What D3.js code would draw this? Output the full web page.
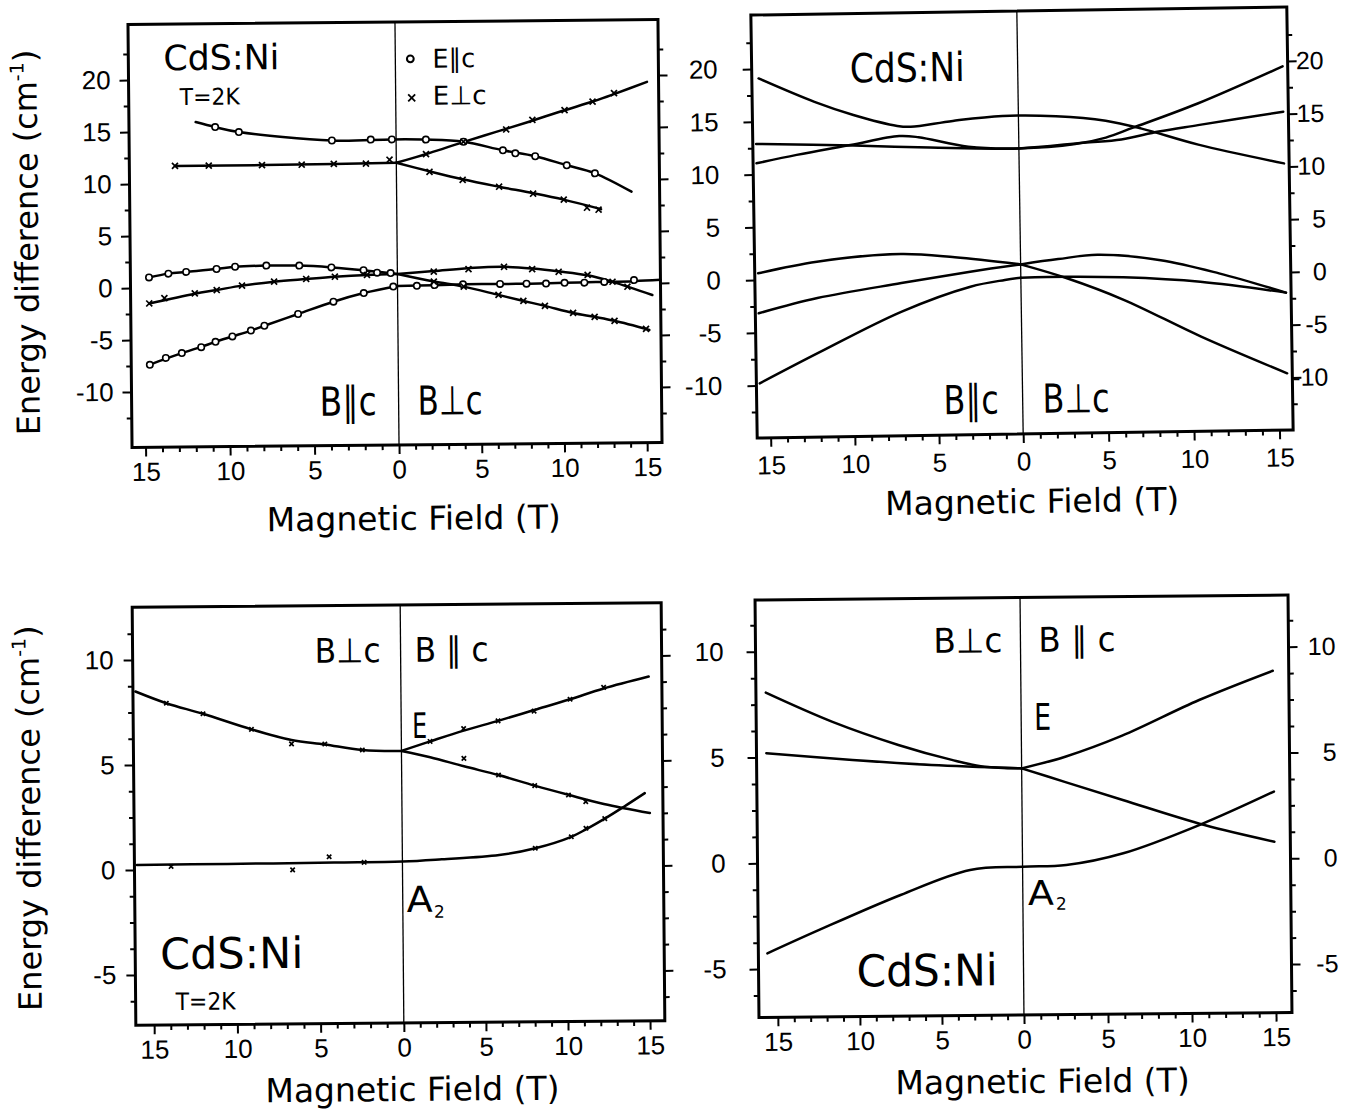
<!DOCTYPE html>
<html>
<head>
<meta charset="utf-8">
<script src="https://cdn.jsdelivr.net/npm/d3@7"></script>
<style>
body { margin: 0; background: #fff; }
text { font-family: "DejaVu Sans", sans-serif; fill: #000; }
.tick text { font-family: "Liberation Sans", Arial, sans-serif; }
</style>
</head>
<body>
<script>
// ---- top left: measured points and fitted lines, T = 2 K ([B, dE]) ----
// negative B = B||c half (drawn on the left), positive B = B⊥c half
var tlUpperPar = [[-11.85,15.9],[-10.7,15.4],[-9.3,14.9],[-3.8,14.0],[-0.25,14.05],[1.8,14.0],[4.07,13.76],[6.45,12.9],[8.4,12.3],[10.3,11.4],[12.0,10.6],[14.2,8.8]];
var tlUpperPerpLeft = [[-13.1,11.7],[-7.9,11.7],[-3.7,11.75],[0,11.8]];
var tlUpperPerpRise = [[0,11.8],[2,12.7],[4,13.7],[6,14.65],[8,15.6],[10,16.6],[12,17.55],[13.2,18.2],[15.2,19.35]];
var tlUpperPerpFall = [[0,11.8],[2,10.95],[4,10.15],[6.2,9.4],[8.25,8.75],[10.1,8.1],[12.35,7.15]];
var tlLowParLeft = [[-14.7,1.0],[-13.55,1.35],[-12.5,1.5],[-10.7,1.75],[-9.6,1.95],[-7.75,2.03],[-5.8,2.0],[-3.9,1.8],[-2.0,1.5],[0,1.1]];
var tlLowPerpLeft = [[-14.7,-1.5],[-12,-0.6],[-10.7,-0.27],[-9.2,0.13],[-7.3,0.48],[-5.4,0.71],[-3.7,0.9],[-1.8,1.04],[0,1.1]];
var tlLowPerpHump = [[0,1.1],[2.2,1.35],[4.3,1.6],[6.4,1.7],[8.2,1.5],[9.8,1.2],[11.5,0.8],[13.0,0.15],[15.4,-1.15]];
var tlLowPerpFall = [[0,1.1],[2.2,0.34],[4.0,-0.17],[6.1,-1.0],[7.6,-1.6],[8.9,-2.1],[10.6,-2.8],[11.9,-3.2],[13.1,-3.6],[15.2,-4.5]];
var tlLowestParLeft = [[-14.7,-7.4],[-13.7,-6.8],[-12.8,-6.3],[-11.7,-5.75],[-10.8,-5.25],[-9.8,-4.75],[-8.7,-4.2],[-7.9,-3.75],[-5.9,-2.65],[-3.8,-1.5],[-2.0,-0.7],[0,-0.05]];
var tlLowestParRight = [[0,-0.05],[2.2,0.0],[4.1,0.05],[6.3,0.05],[8.0,0.05],[10.1,0.1],[12.0,0.15],[14.3,0.2],[15.9,0.3]];

var tlPointsPar = [[-10.7,15.4],[-9.3,14.9],[-3.8,14.0],[-1.5,14.05],[-0.25,14.05],[1.8,14.0],[4.07,13.76],[6.45,12.9],[7.2,12.6],[8.4,12.3],[10.3,11.4],[12.0,10.6],
  [-14.7,1.0],[-13.55,1.35],[-12.5,1.5],[-10.7,1.75],[-9.6,1.95],[-7.75,2.03],[-5.8,2.0],[-3.9,1.8],[-2.0,1.5],[-1.2,1.25],[-0.4,1.2],
  [-14.7,-7.4],[-13.75,-6.75],[-12.8,-6.3],[-11.65,-5.75],[-10.8,-5.25],[-9.8,-4.75],[-8.7,-4.2],[-7.9,-3.75],[-5.9,-2.65],[-3.8,-1.5],[-2.0,-0.7],[-0.25,-0.1],
  [1.17,-0.05],[2.24,0.0],[3.96,0.05],[6.2,0.05],[7.8,0.05],[8.98,0.05],[10.1,0.1],[11.3,0.1],[12.5,0.15],[14.3,0.3]];
var tlPointsPerp = [[-13.1,11.7],[-11.1,11.7],[-7.95,11.7],[-5.6,11.7],[-3.7,11.75],[-1.8,11.75],[-0.4,12.1],
  [1.8,12.6],[4.07,13.76],[6.66,14.9],[8.25,15.8],[10.2,16.7],[11.9,17.5],[13.2,18.3],
  [2.0,10.9],[4.0,10.1],[6.2,9.4],[8.25,8.7],[10.1,8.1],[11.5,7.3],[12.2,7.1],
  [-14.7,-1.5],[-13.8,-1.0],[-12,-0.57],[-10.7,-0.27],[-9.2,0.13],[-7.3,0.48],[-5.4,0.71],[-3.7,0.9],[-1.8,1.04],
  [2.2,1.3],[4.3,1.5],[6.45,1.7],[8.15,1.45],[9.75,1.17],[11.5,0.84],[13.0,0.16],[13.9,-0.33],
  [2.2,0.34],[4.0,-0.17],[6.1,-1.0],[7.6,-1.6],[8.9,-2.1],[10.6,-2.8],[11.9,-3.2],[13.1,-3.6],[15.0,-4.4]];

// ---- top right: calculated levels ----
var trLevel1 = [[-15.4,19.1],[-12.1,16.8],[-9.8,15.5],[-7.2,14.4],[-6.4,14.3],[-3.9,14.8],[-0.95,15.2],[2.2,15.1],[5.1,14.6],[7.2,13.8],[10.5,12.2],[15.5,10.3]];
var trLevel2 = [[-15.6,11.06],[-13.2,11.8],[-10.0,12.66],[-7.1,13.44],[-5.95,13.3],[-3.0,12.33],[0,12.1],[3.3,12.43],[5.1,13.0],[6.7,13.9],[10.5,16.1],[15.5,19.5]];
var trLevel3 = [[-15.6,12.9],[-9.8,12.6],[-5.3,12.3],[0,12.1],[3.8,12.55],[6.0,12.8],[8.2,13.5],[10.5,14.05],[15.5,15.2]];
var trLevel4Left = [[-15.6,0.63],[-12.1,1.65],[-7.1,2.26],[-3.9,1.87],[0,1.1]];
var trLevel4Right = [[0,1.1],[2.2,1.55],[4.5,1.9],[8.2,1.3],[11.6,-0.03],[15.5,-1.95]];
var trLevel5Left = [[-15.6,-3.16],[-12.1,-1.8],[-7.1,-0.5],[-3.0,0.48],[0,1.1]];
var trLevel5Right = [[0,1.1],[2.7,-0.28],[6.0,-2.4],[10.5,-6.0],[15.5,-9.6]];
var trLevel6Left = [[-15.6,-9.8],[-12.1,-7.0],[-7.1,-3.2],[-3.0,-0.94],[-0.95,-0.35],[0,-0.16]];
var trLevel6Right = [[0,-0.16],[2.7,-0.13],[6.0,-0.27],[10.5,-0.8],[15.5,-1.95]];

// ---- bottom left: measured E and A2 levels (B⊥c left, B||c right) ----
var blELeft = [[-15.95,8.5],[-14.1,7.93],[-11.9,7.41],[-9.0,6.65],[-6.6,6.13],[-4.6,5.9],[-2.35,5.62],[0,5.56]];
var blERise = [[0,5.56],[1.75,6.0],[3.8,6.5],[5.9,6.95],[8.1,7.45],[10.3,7.95],[12.35,8.45],[15.1,9.0]];
var blEFall = [[0,5.56],[1.75,5.25],[3.8,4.8],[5.9,4.37],[8.1,3.85],[10.15,3.4],[12.3,2.95],[15.1,2.5]];
var blA2 = [[-15.95,0.24],[-10.5,0.25],[-4.1,0.27],[0,0.29],[2.4,0.38],[5.9,0.56],[8.1,0.87],[10.3,1.4],[11.2,1.75],[12.35,2.25],[13.5,2.8],[14.8,3.45]];
var blPoints = [[-14.1,7.93],[-11.9,7.41],[-9.0,6.65],[-6.6,5.94],[-4.6,5.92],[-2.35,5.62],
  [1.75,6.0],[3.8,6.6],[5.9,6.95],[8.1,7.4],[10.3,7.95],[12.35,8.5],
  [3.8,5.18],[5.9,4.37],[8.1,3.85],[10.15,3.39],[11.2,3.07],
  [-13.9,0.15],[-6.6,-0.06],[-4.4,0.55],[-2.3,0.27],[8.1,0.87],[10.3,1.4],[11.2,1.8],[12.35,2.25]];

// ---- bottom right: calculated E and A2 levels ----
var brELeftUpper = [[-15.55,8.06],[-11.5,6.65],[-7.5,5.53],[-4.25,4.8],[-2.25,4.46],[0,4.37]];
var brELeftLower = [[-15.55,5.2],[-10.3,4.84],[-5.5,4.57],[0,4.37]];
var brERise = [[0,4.37],[2.6,4.9],[6.0,5.87],[10.6,7.52],[15.0,8.87]];
var brEFall = [[0,4.37],[2.6,3.7],[6.0,2.83],[10.85,1.61],[15.0,0.79]];
var brA2 = [[-15.6,-4.26],[-12.5,-3.2],[-7.45,-1.56],[-3.2,-0.41],[0,-0.28],[2.6,-0.22],[6.0,0.31],[10.6,1.63],[15.0,3.16]];

var fieldTicks = [-15, -10, -5, 0, 5, 10, 15];

var W = 1355, H = 1112;
var svg = d3.select('body').append('svg').attr('width', W).attr('height', H);
svg.append('rect').attr('width', W).attr('height', H).attr('fill', '#fff');

// panel layout (the scan is slightly tilted, so each panel gets a small rotation)
var panels = [
    { left: 130, right: 660, top: 22, bottom: 445, zero: 397, bMin: -15.8, bMax: 15.9,
      y0: 285.5, eRef: 20, yRef: 77.5, eStep: 2.5, tilt: -0.55, padX: 6,
      leftLabels: true, padLeft: 9, rightLabels: false,
      lines: [tlUpperPar, tlUpperPerpLeft, tlUpperPerpRise, tlUpperPerpFall, tlLowParLeft, tlLowPerpLeft,
              tlLowPerpHump, tlLowPerpFall, tlLowestParLeft, tlLowestParRight],
      circles: tlPointsPar, crosses: tlPointsPerp, crossSize: 3 },
    { left: 754, right: 1290, top: 11, bottom: 434, zero: 1020, bMin: -15.8, bMax: 15.8,
      y0: 276, eRef: 20, yRef: 65, eStep: 2.5, tilt: -0.86, padX: 9,
      leftLabels: true, padLeft: 25, rightLabels: true, rightEnd: 36,
      lines: [trLevel1, trLevel2, trLevel3, trLevel4Left, trLevel4Right, trLevel5Left, trLevel5Right, trLevel6Left, trLevel6Right],
      circles: [], crosses: [] },
    { left: 134, right: 663, top: 605, bottom: 1023, zero: 402, bMin: -16.1, bMax: 15.9,
      y0: 867.7, eRef: 10, yRef: 657.7, eStep: 1.25, tilt: -0.5, padX: 6,
      leftLabels: true, padLeft: 10, rightLabels: false,
      lines: [blELeft, blERise, blEFall, blA2],
      circles: [], crosses: blPoints, crossSize: 2.2 },
    { left: 757, right: 1290, top: 597.5, bottom: 1015, zero: 1022, bMin: -16.15, bMax: 15.95,
      y0: 860.8, eRef: 10, yRef: 649.2, eStep: 1.25, tilt: -0.54, padX: 6,
      leftLabels: true, padLeft: 23, rightLabels: true, rightEnd: 47,
      lines: [brELeftUpper, brELeftLower, brERise, brEFall, brA2],
      circles: [], crosses: [] }
];

function txt(g, s, x, y, size, len, anchor) {
    var t = g.append('text').attr('x', x).attr('y', y).attr('font-size', size)
        .attr('text-anchor', anchor || 'start').text(s);
    if (len) {
        t.attr('textLength', len).attr('lengthAdjust', 'spacingAndGlyphs');
    }
    return t;
}

function cleanAxis(a) {
    a.select('.domain').remove();
    a.attr('font-size', 26);
    a.selectAll('line').attr('stroke', '#000').attr('stroke-width', 2);
}

function drawPanel(p) {
    var cx = (p.left + p.right) / 2, cy = (p.top + p.bottom) / 2;
    var g = svg.append('g').attr('transform', 'rotate(' + p.tilt + ',' + cx + ',' + cy + ')');

    var x = d3.scaleLinear().domain([p.bMin, 0, p.bMax]).range([p.left, p.zero, p.right]);
    var y = d3.scaleLinear().domain([0, p.eRef]).range([p.y0, p.yRef]);
    p.x = x; p.y = y; p.g = g;

    // field axis, labels show |B| on both halves
    var minorB = d3.range(-15, 16).filter(function (d) { return d % 5 !== 0; });
    var bMinor = g.append('g').attr('transform', 'translate(0,' + p.bottom + ')')
        .call(d3.axisBottom(x).tickValues(minorB).tickSize(5).tickFormat(''));
    cleanAxis(bMinor);
    var bMajor = g.append('g').attr('transform', 'translate(0,' + p.bottom + ')')
        .call(d3.axisBottom(x).tickValues(fieldTicks).tickSize(9).tickPadding(p.padX)
            .tickFormat(function (d) { return String(Math.abs(d)); }));
    cleanAxis(bMajor);

    // energy axes
    var eAll = d3.range(-20, 30.01, p.eStep).filter(function (d) {
        var yy = y(d);
        return yy > p.top + 5 && yy < p.bottom - 5;
    });
    var eMajor = eAll.filter(function (d) { return Math.abs(d % 5) < 1e-6; });
    var eMinor = eAll.filter(function (d) { return Math.abs(d % 5) > 1e-6; });
    var fmt = function (d) { return String(d); };

    var lMinor = g.append('g').attr('transform', 'translate(' + p.left + ',0)')
        .call(d3.axisLeft(y).tickValues(eMinor).tickSize(5).tickFormat(''));
    cleanAxis(lMinor);
    var lMajor = g.append('g').attr('transform', 'translate(' + p.left + ',0)')
        .call(d3.axisLeft(y).tickValues(eMajor).tickSize(9).tickPadding(p.padLeft)
            .tickFormat(p.leftLabels ? fmt : ''));
    cleanAxis(lMajor);

    var rMinor = g.append('g').attr('transform', 'translate(' + p.right + ',0)')
        .call(d3.axisRight(y).tickValues(eMinor).tickSize(5).tickFormat(''));
    cleanAxis(rMinor);
    var rMajor = g.append('g').attr('transform', 'translate(' + p.right + ',0)')
        .call(d3.axisRight(y).tickValues(eMajor).tickSize(9)
            .tickFormat(p.rightLabels ? fmt : ''));
    cleanAxis(rMajor);
    if (p.rightLabels) {
        // the right-hand numbers are right aligned in the original
        rMajor.selectAll('text').attr('text-anchor', 'end').attr('x', p.rightEnd).attr('font-size', 25);
    }

    // B = 0 divider
    g.append('line')
        .attr('x1', x(0)).attr('x2', x(0)).attr('y1', p.top).attr('y2', p.bottom)
        .attr('stroke', '#000').attr('stroke-width', 1.3);

    // level curves
    var line = d3.line()
        .x(function (d) { return x(d[0]); })
        .y(function (d) { return y(d[1]); })
        .curve(d3.curveCatmullRom.alpha(0.5));

    g.selectAll('path.level').data(p.lines).enter().append('path')
        .attr('class', 'level')
        .attr('d', line)
        .attr('fill', 'none').attr('stroke', '#000').attr('stroke-width', 2.5)
        .attr('stroke-linejoin', 'round').attr('stroke-linecap', 'round');

    // measured points
    g.selectAll('circle.pt').data(p.circles).enter().append('circle')
        .attr('class', 'pt')
        .attr('cx', function (d) { return x(d[0]); })
        .attr('cy', function (d) { return y(d[1]); })
        .attr('r', 3.2)
        .attr('fill', '#fff').attr('stroke', '#000').attr('stroke-width', 1.6);

    var s = p.crossSize || 3;
    g.selectAll('path.pt').data(p.crosses).enter().append('path')
        .attr('class', 'pt')
        .attr('transform', function (d) { return 'translate(' + x(d[0]) + ',' + y(d[1]) + ')'; })
        .attr('d', 'M' + (-s) + ',' + (-s) + 'L' + s + ',' + s + 'M' + (-s) + ',' + s + 'L' + s + ',' + (-s))
        .attr('stroke', '#000').attr('stroke-width', 1.7);

    // frame
    g.append('rect')
        .attr('x', p.left).attr('y', p.top)
        .attr('width', p.right - p.left).attr('height', p.bottom - p.top)
        .attr('fill', 'none').attr('stroke', '#000').attr('stroke-width', 3);

    return g;
}

panels.forEach(drawPanel);

function yTitle(g, cx, cy) {
    var t = g.append('text')
        .attr('transform', 'translate(' + cx + ',' + cy + ') rotate(-90)')
        .attr('text-anchor', 'middle').attr('font-size', 32);
    t.append('tspan').text('Energy difference (cm');
    t.append('tspan').attr('font-size', 19).attr('dy', -13).text('-1');
    t.append('tspan').attr('dy', 13).text(')');
}

function xTitle(g, cx, baseline) {
    txt(g, 'Magnetic Field (T)', cx, baseline, 33, null, 'middle');
}

// ---- annotations, top left ----
var g1 = panels[0].g;
txt(g1, 'CdS:Ni', 165, 68, 35, 116);
txt(g1, 'T=2K', 181, 103, 23, 60);
g1.append('circle').attr('cx', 412).attr('cy', 59).attr('r', 3.4)
    .attr('fill', '#fff').attr('stroke', '#000').attr('stroke-width', 2);
txt(g1, 'E\u2225c', 434, 68, 26, 43);
g1.append('path').attr('transform', 'translate(413,98)')
    .attr('d', 'M-3.5,-3.5L3.5,3.5M-3.5,3.5L3.5,-3.5').attr('stroke', '#000').attr('stroke-width', 1.8);
txt(g1, 'E\u22a5c', 434, 105, 26, 54);
txt(g1, 'B\u2225c', 318, 415, 40, 57);
txt(g1, 'B\u22a5c', 416, 415, 40, 65);
xTitle(g1, 411, 530);
yTitle(g1, 38, 239);

// ---- top right ----
var g2 = panels[1].g;
txt(g2, 'CdS:Ni', 852, 80, 40, 115);
txt(g2, 'B\u2225c', 941, 413, 40, 55);
txt(g2, 'B\u22a5c', 1040, 413, 40, 67);
xTitle(g2, 1028, 513);

// ---- bottom left ----
var g3 = panels[2].g;
txt(g3, 'B\u22a5c', 316, 662, 34, 66);
txt(g3, 'B \u2225 c', 416, 662, 34, 74);
txt(g3, 'E', 413, 738, 35, 15);
txt(g3, 'A', 406, 912, 36, 26);
txt(g3, '2', 433, 918, 17);
txt(g3, 'CdS:Ni', 159, 967, 43, 143);
txt(g3, 'T=2K', 174, 1008, 24, 60);
xTitle(g3, 410, 1101);
yTitle(g3, 40, 815);

// ---- bottom right ----
var g4 = panels[3].g;
txt(g4, 'B\u22a5c', 935, 652, 34, 69);
txt(g4, 'B \u2225 c', 1040, 652, 34, 77);
txt(g4, 'E', 1035, 730, 37, 17);
txt(g4, 'A', 1027, 905, 34, 26);
txt(g4, '2', 1055, 910, 17);
txt(g4, 'CdS:Ni', 855, 985, 44, 141);
xTitle(g4, 1040, 1093);
</script>
</body>
</html>
